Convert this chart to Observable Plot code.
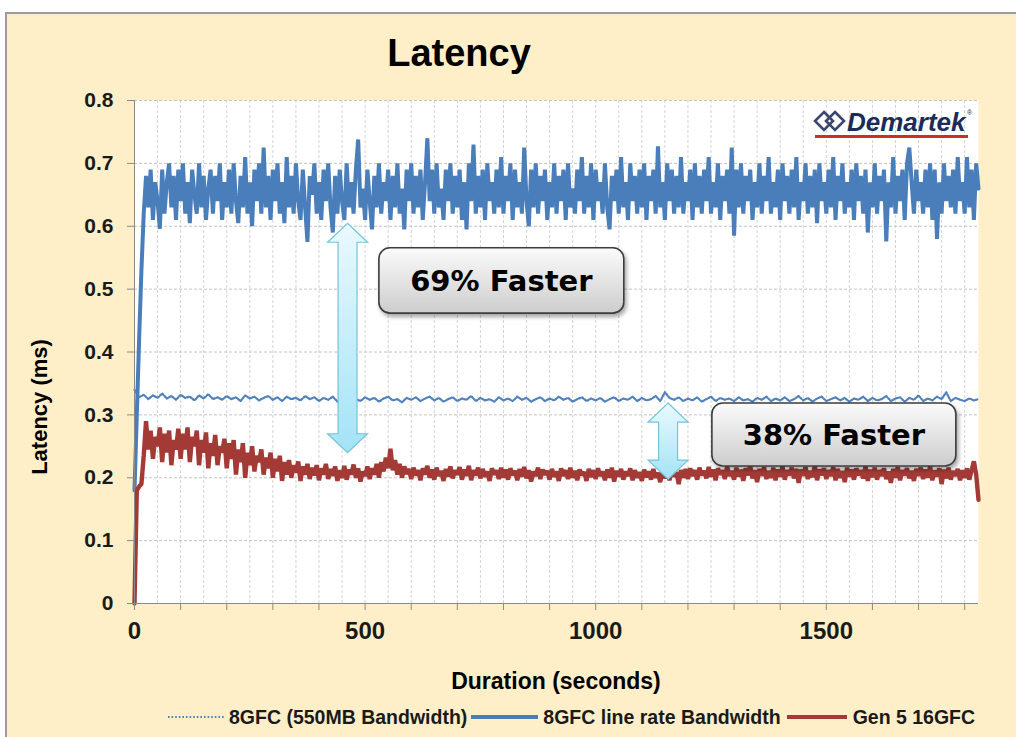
<!DOCTYPE html>
<html>
<head>
<meta charset="utf-8">
<script src="https://cdn.jsdelivr.net/npm/d3@7"></script>
<script src="https://cdn.jsdelivr.net/npm/@observablehq/plot@0.6"></script>
<style>
  body { margin: 0; background: #ffffff; }
  #wrap { position: relative; width: 1016px; height: 737px; overflow: hidden; }
  #panel { position: absolute; left: 5px; top: 12px; width: 1011px; height: 725px;
           background: #FFEFC9; border-top: 2px solid #9c9c9c; border-left: 2px solid #9c9c9c; box-sizing: border-box; }
  #legend { position: absolute; left: 168px; top: 705px; height: 24px; display: flex; align-items: center;
            font: bold 19.5px "Liberation Sans", Arial, sans-serif; color: #1a1a1a; white-space: nowrap; }
</style>
</head>
<body>
<div id="wrap"><div id="panel"></div></div>
<script>
// ---------------- data ----------------
const chartTitle = "Latency";
const xLabel = "Duration (seconds)";
const yLabel = "Latency (ms)";
const seriesNames = ["8GFC (550MB Bandwidth)", "8GFC line rate Bandwidth", "Gen 5 16GFC"];

const yTicks = [0, 0.1, 0.2, 0.3, 0.4, 0.5, 0.6, 0.7, 0.8];
const yTickLabels = ["0", "0.1", "0.2", "0.3", "0.4", "0.5", "0.6", "0.7", "0.8"];
const xLabelTicks = [0, 500, 1000, 1500];
const xMinorTicks = [0, 100, 200, 300, 400, 500, 600, 700, 800, 900, 1000, 1100, 1200, 1300, 1400, 1500, 1600, 1700, 1800];
const xGrid = [50, 100, 150, 200, 250, 300, 350, 400, 450, 500, 550, 600, 650, 700, 750, 800, 850, 900, 950, 1000,
               1050, 1100, 1150, 1200, 1250, 1300, 1350, 1400, 1450, 1500, 1550, 1600, 1650, 1700, 1750, 1800];
const yGrid = [0.1, 0.2, 0.3, 0.4, 0.5, 0.6, 0.7, 0.8];

// 8GFC line rate Bandwidth, one reading every 5 s (0 .. 1830 s)
const lineRateStep = 5;
const lineRate = [
  0.18,0.30,0.42,0.53,0.62,0.68,0.63,0.69,0.61,0.67,0.64,0.596,0.69,0.62,0.67,0.70,0.63,0.68,0.61,0.69,
  0.64,0.70,0.62,0.67,0.605,0.69,0.65,0.62,0.70,0.63,0.68,0.61,0.66,0.69,0.62,0.68,0.64,0.70,0.61,0.67,
  0.63,0.69,0.62,0.70,0.64,0.605,0.68,0.63,0.71,0.62,0.67,0.60,0.69,0.64,0.70,0.62,0.725,0.63,0.68,0.61,
  0.69,0.64,0.70,0.62,0.67,0.605,0.71,0.63,0.68,0.62,0.70,0.64,0.61,0.69,0.63,0.575,0.68,0.65,0.70,0.62,
  0.67,0.61,0.69,0.64,0.70,0.63,0.59,0.68,0.62,0.69,0.64,0.61,0.70,0.63,0.67,0.62,0.69,0.738,0.63,0.66,
  0.61,0.69,0.64,0.595,0.68,0.63,0.70,0.62,0.67,0.64,0.69,0.61,0.68,0.63,0.70,0.62,0.66,0.595,0.69,0.64,
  0.70,0.62,0.68,0.63,0.69,0.61,0.67,0.74,0.64,0.69,0.62,0.70,0.63,0.66,0.61,0.69,0.64,0.70,0.62,0.68,
  0.63,0.69,0.61,0.67,0.595,0.70,0.64,0.73,0.62,0.68,0.63,0.69,0.61,0.70,0.64,0.67,0.62,0.69,0.63,0.71,
  0.62,0.68,0.64,0.70,0.61,0.69,0.63,0.67,0.62,0.725,0.64,0.60,0.69,0.63,0.70,0.62,0.68,0.64,0.69,0.61,
  0.67,0.63,0.70,0.62,0.68,0.64,0.69,0.61,0.70,0.63,0.66,0.62,0.69,0.64,0.71,0.62,0.68,0.63,0.70,0.61,
  0.69,0.64,0.67,0.62,0.70,0.63,0.595,0.68,0.64,0.69,0.62,0.71,0.63,0.67,0.61,0.70,0.64,0.68,0.62,0.69,
  0.63,0.70,0.61,0.68,0.64,0.69,0.62,0.727,0.63,0.67,0.61,0.70,0.64,0.69,0.62,0.68,0.63,0.71,0.62,0.67,
  0.64,0.69,0.61,0.70,0.63,0.68,0.62,0.69,0.64,0.71,0.62,0.67,0.63,0.70,0.61,0.68,0.64,0.69,0.62,0.725,
  0.585,0.69,0.63,0.70,0.62,0.68,0.64,0.69,0.61,0.67,0.63,0.70,0.62,0.68,0.64,0.71,0.62,0.67,0.63,0.69,
  0.61,0.70,0.64,0.68,0.62,0.69,0.63,0.71,0.61,0.67,0.64,0.70,0.62,0.68,0.63,0.69,0.605,0.70,0.64,0.67,
  0.62,0.69,0.63,0.71,0.61,0.68,0.64,0.70,0.62,0.67,0.63,0.69,0.61,0.70,0.64,0.68,0.62,0.69,0.59,0.67,
  0.63,0.70,0.62,0.68,0.64,0.69,0.576,0.67,0.63,0.71,0.62,0.68,0.64,0.69,0.61,0.70,0.725,0.67,0.62,0.69,
  0.64,0.67,0.62,0.69,0.63,0.70,0.61,0.69,0.58,0.67,0.62,0.70,0.64,0.68,0.63,0.69,0.62,0.71,0.64,0.67,
  0.62,0.71,0.63,0.69,0.61,0.70,0.66
];

// 8GFC (550MB Bandwidth), one reading every 10 s (0 .. 1830 s)
const limitedStep = 10;
const limited = [
  0.34,0.328,0.332,0.325,0.331,0.327,0.334,0.326,0.33,0.324,0.332,0.327,0.329,0.323,0.331,0.326,0.333,0.325,0.328,0.324,
  0.33,0.325,0.328,0.322,0.331,0.326,0.329,0.323,0.327,0.33,0.324,0.328,0.322,0.329,0.325,0.327,0.323,0.33,0.325,0.328,
  0.322,0.327,0.324,0.329,0.321,0.326,0.323,0.33,0.325,0.322,0.328,0.324,0.327,0.321,0.326,0.329,0.323,0.325,0.32,0.327,
  0.324,0.328,0.322,0.326,0.329,0.323,0.327,0.321,0.325,0.328,0.322,0.326,0.324,0.33,0.322,0.327,0.323,0.325,0.321,0.328,
  0.323,0.326,0.322,0.329,0.324,0.327,0.321,0.325,0.328,0.322,0.326,0.323,0.329,0.324,0.327,0.321,0.325,0.328,0.322,0.326,
  0.323,0.327,0.321,0.325,0.328,0.322,0.326,0.324,0.329,0.322,0.327,0.323,0.325,0.33,0.322,0.336,0.327,0.324,0.328,0.322,
  0.326,0.323,0.328,0.321,0.325,0.329,0.322,0.327,0.324,0.326,0.322,0.328,0.323,0.325,0.321,0.327,0.324,0.329,0.322,0.326,
  0.323,0.328,0.322,0.325,0.33,0.323,0.327,0.321,0.326,0.329,0.322,0.325,0.328,0.323,0.327,0.321,0.326,0.324,0.329,0.322,
  0.327,0.323,0.325,0.33,0.322,0.326,0.328,0.321,0.327,0.324,0.331,0.322,0.326,0.323,0.329,0.325,0.336,0.322,0.327,0.324,
  0.322,0.326,0.323,0.325
];

// Gen 5 16GFC, one reading every 5 s (0 .. 1830 s)
const gen5Step = 5;
const gen5 = [
  0,0.18,0.186,0.19,0.235,0.29,0.245,0.275,0.23,0.265,0.25,0.28,0.225,0.27,0.24,0.275,0.22,0.26,0.245,0.278,
  0.23,0.27,0.245,0.28,0.225,0.265,0.25,0.275,0.22,0.26,0.24,0.272,0.215,0.255,0.235,0.268,0.22,0.25,0.24,0.262,
  0.215,0.255,0.23,0.26,0.205,0.245,0.225,0.255,0.2,0.24,0.22,0.25,0.21,0.235,0.225,0.245,0.205,0.232,0.215,0.24,
  0.2,0.23,0.21,0.235,0.195,0.225,0.205,0.228,0.2,0.22,0.208,0.226,0.195,0.218,0.205,0.222,0.198,0.216,0.204,0.22,
  0.196,0.215,0.205,0.222,0.198,0.214,0.203,0.218,0.195,0.212,0.2,0.219,0.197,0.213,0.205,0.221,0.2,0.215,0.194,0.21,
  0.203,0.218,0.198,0.215,0.205,0.222,0.2,0.225,0.21,0.232,0.215,0.246,0.212,0.228,0.205,0.222,0.2,0.218,0.206,0.214,
  0.198,0.216,0.204,0.212,0.196,0.215,0.205,0.219,0.2,0.213,0.197,0.216,0.203,0.211,0.195,0.214,0.202,0.218,0.199,0.212,
  0.205,0.217,0.197,0.213,0.203,0.219,0.196,0.212,0.204,0.216,0.199,0.214,0.202,0.21,0.195,0.215,0.205,0.212,0.198,0.216,
  0.2,0.213,0.197,0.215,0.204,0.211,0.196,0.214,0.202,0.217,0.199,0.212,0.194,0.21,0.203,0.216,0.198,0.213,0.205,0.211,
  0.197,0.214,0.202,0.21,0.195,0.215,0.203,0.212,0.198,0.216,0.2,0.211,0.196,0.213,0.204,0.209,0.195,0.214,0.201,0.212,
  0.198,0.215,0.203,0.21,0.196,0.213,0.2,0.216,0.194,0.211,0.202,0.214,0.197,0.21,0.203,0.215,0.196,0.212,0.2,0.209,
  0.195,0.213,0.201,0.21,0.197,0.214,0.2,0.208,0.193,0.212,0.199,0.215,0.196,0.211,0.202,0.209,0.19,0.212,0.2,0.214,
  0.198,0.215,0.203,0.212,0.197,0.216,0.204,0.211,0.199,0.217,0.202,0.213,0.196,0.215,0.205,0.212,0.198,0.218,0.203,0.211,
  0.197,0.216,0.202,0.213,0.195,0.215,0.204,0.219,0.199,0.212,0.193,0.214,0.203,0.217,0.198,0.211,0.2,0.216,0.196,0.213,
  0.202,0.218,0.197,0.212,0.204,0.216,0.199,0.214,0.192,0.213,0.203,0.217,0.198,0.211,0.201,0.219,0.196,0.213,0.204,0.215,
  0.198,0.212,0.203,0.217,0.196,0.214,0.2,0.211,0.193,0.216,0.202,0.213,0.197,0.215,0.204,0.212,0.199,0.218,0.195,0.213,
  0.201,0.216,0.197,0.212,0.203,0.215,0.198,0.21,0.192,0.214,0.2,0.217,0.196,0.212,0.204,0.215,0.199,0.211,0.195,0.214,
  0.203,0.216,0.198,0.213,0.2,0.218,0.196,0.212,0.202,0.215,0.19,0.213,0.199,0.216,0.197,0.211,0.203,0.214,0.196,0.212,
  0.2,0.215,0.197,0.212,0.226,0.205,0.165
];

const callouts = [
  { text: "69% Faster", at: 463, from: 0.604, to: 0.239, box: [531, 1062, 0.565, 0.461] },
  { text: "38% Faster", at: 1158, from: 0.318, to: 0.197, box: [1253, 1782, 0.318, 0.218] }
];

// ---------------- chart ----------------
const toRows = (vals, step) => vals.map((v, i) => ({ t: i * step, v }));
const limitedRows = toRows(limited, limitedStep);
const lineRateRows = toRows(lineRate, lineRateStep);
const gen5Rows = toRows(gen5, gen5Step);

const colors = { limited: "#4F81BD", lineRate: "#4A7EBB", gen5: "#A33A36" };
const FONT = '"Liberation Sans", Arial, Helvetica, sans-serif';

const chart = Plot.plot({
  width: 1016,
  height: 737,
  marginLeft: 134,
  marginRight: 38,
  marginTop: 100,
  marginBottom: 134,
  style: { background: "transparent", fontFamily: FONT, color: "#1a1a1a", overflow: "visible" },
  x: { domain: [0, 1830] },
  y: { domain: [0, 0.8] },
  marks: [
    Plot.frame({ fill: "white", stroke: "none" }),
    Plot.ruleX(xGrid, { stroke: "#d4d4d4", strokeDasharray: "3,2" }),
    Plot.ruleY(yGrid, { stroke: "#c4c4c4", strokeDasharray: "3,2" }),
    Plot.line(limitedRows, { x: "t", y: "v", stroke: colors.limited, strokeWidth: 2.2, strokeDasharray: "1.6,1.6" }),
    Plot.line(lineRateRows, { x: "t", y: "v", stroke: colors.lineRate, strokeWidth: 4, strokeLinejoin: "miter" }),
    Plot.line(gen5Rows, { x: "t", y: "v", stroke: colors.gen5, strokeWidth: 4.4, strokeLinejoin: "miter" }),
    Plot.ruleX([0], { stroke: "#8a8a8a" }),
    Plot.ruleY([0], { stroke: "#8a8a8a" }),
    Plot.axisY(yTicks, {
      tickSize: 7, tickPadding: 14, fontSize: 21, fontWeight: "bold", stroke: "#8a8a8a", fill: "#1a1a1a",
      tickFormat: d => yTickLabels[yTicks.indexOf(d)], label: null
    }),
    Plot.axisX(xMinorTicks, { tickSize: 7, stroke: "#8a8a8a", tickFormat: () => "", label: null }),
    Plot.axisX(xLabelTicks, {
      tickSize: 0, tickPadding: 18, fontSize: 24, fontWeight: "bold", fill: "#1a1a1a",
      tickFormat: d => String(d), label: null
    })
  ]
});
chart.style.position = "absolute";
chart.style.left = "0px";
chart.style.top = "0px";
document.getElementById("wrap").appendChild(chart);

const sx = chart.scale("x"), sy = chart.scale("y");
const X = t => sx.apply(t), Y = v => sy.apply(v);

// ---------------- overlay (titles, logo, callouts) ----------------
const ov = d3.select("#wrap").append("svg")
  .attr("width", 1016).attr("height", 737)
  .style("position", "absolute").style("left", "0px").style("top", "0px");

const defs = ov.append("defs");
const ag = defs.append("linearGradient").attr("id", "arrowGrad").attr("x1", 0).attr("x2", 0).attr("y1", 0).attr("y2", 1);
ag.append("stop").attr("offset", "0%").attr("stop-color", "#EAF9FE");
ag.append("stop").attr("offset", "100%").attr("stop-color", "#A3E3F6");
const bg = defs.append("linearGradient").attr("id", "boxGrad").attr("x1", 0).attr("x2", 0).attr("y1", 0).attr("y2", 1);
bg.append("stop").attr("offset", "0%").attr("stop-color", "#FBFBFB");
bg.append("stop").attr("offset", "100%").attr("stop-color", "#CDCDCD");
const sh = defs.append("filter").attr("id", "shadow").attr("x", "-10%").attr("y", "-10%").attr("width", "130%").attr("height", "140%");
sh.append("feDropShadow").attr("dx", 2).attr("dy", 3).attr("stdDeviation", 2).attr("flood-color", "#000").attr("flood-opacity", 0.35);

// title
ov.append("text").attr("x", 459).attr("y", 66).attr("text-anchor", "middle")
  .style("font", `bold 38px ${FONT}`).attr("fill", "#000").text(chartTitle);
// axis labels
ov.append("text").attr("transform", "translate(47,407) rotate(-90)").attr("text-anchor", "middle")
  .style("font", `bold 22px ${FONT}`).attr("fill", "#000").text(yLabel);
ov.append("text").attr("x", 556).attr("y", 689).attr("text-anchor", "middle")
  .style("font", `bold 23px ${FONT}`).attr("fill", "#000").text(xLabel);

// logo
const logo = ov.append("g");
const diamond = (cx, cy, r) => `M${cx},${cy - r}L${cx + r},${cy}L${cx},${cy + r}L${cx - r},${cy}Z`;
logo.append("path").attr("d", diamond(824, 121, 9)).attr("fill", "none").attr("stroke", "#3a4670").attr("stroke-width", 2.6);
logo.append("path").attr("d", diamond(835, 121, 9)).attr("fill", "none").attr("stroke", "#3a4670").attr("stroke-width", 2.6);
logo.append("text").attr("x", 847).attr("y", 131).style("font", `italic bold 26px ${FONT}`).attr("fill", "#1C2B5A").text("Demartek");
logo.append("text").attr("x", 967).attr("y", 115).style("font", `7px ${FONT}`).attr("fill", "#1C2B5A").text("®");
logo.append("line").attr("x1", 815).attr("x2", 968).attr("y1", 136.5).attr("y2", 136.5).attr("stroke", "#C8312B").attr("stroke-width", 3);

// callouts
for (const c of callouts) {
  const cx = X(c.at), yt = Y(c.from), yb = Y(c.to);
  const hw = 20, sw = 9.5, hl = 19;
  const pts = [
    [cx, yt], [cx + hw, yt + hl], [cx + sw, yt + hl], [cx + sw, yb - hl], [cx + hw, yb - hl],
    [cx, yb], [cx - hw, yb - hl], [cx - sw, yb - hl], [cx - sw, yt + hl], [cx - hw, yt + hl]
  ];
  ov.append("path").attr("d", "M" + pts.map(p => p.join(",")).join("L") + "Z")
    .attr("fill", "url(#arrowGrad)").attr("stroke", "#74C4DA").attr("stroke-width", 1.2);
  const [t0, t1, v0, v1] = c.box;
  const bx = X(t0), bw = X(t1) - X(t0), by = Y(v0), bh = Y(v1) - Y(v0);
  ov.append("rect").attr("x", bx).attr("y", by).attr("width", bw).attr("height", bh)
    .attr("rx", 11).attr("fill", "url(#boxGrad)").attr("stroke", "#3c3c3c").attr("stroke-width", 1.6)
    .attr("filter", "url(#shadow)");
  ov.append("text").attr("x", bx + bw / 2).attr("y", by + bh / 2 + 10.5).attr("text-anchor", "middle")
    .style("font", 'bold 29px "DejaVu Sans", Verdana, sans-serif').attr("fill", "#000").text(c.text);
}

// legend
const lg = d3.select("#wrap").append("div").attr("id", "legend");
const addSample = (stroke, width, dash, w, ml) => {
  const s = lg.append("svg").attr("width", w).attr("height", 10).style("margin-left", ml + "px");
  s.append("line").attr("x1", 0).attr("x2", w).attr("y1", 5).attr("y2", 5)
    .attr("stroke", stroke).attr("stroke-width", width).attr("stroke-dasharray", dash);
};
addSample(colors.limited, 2.2, "1.6,2", 56, 0);
lg.append("span").style("margin-left", "5px").text(seriesNames[0]);
addSample(colors.lineRate, 4, null, 67, 4);
lg.append("span").style("margin-left", "5px").text(seriesNames[1]);
addSample(colors.gen5, 4, null, 60, 6);
lg.append("span").style("margin-left", "6px").text(seriesNames[2]);
</script>
</body>
</html>
